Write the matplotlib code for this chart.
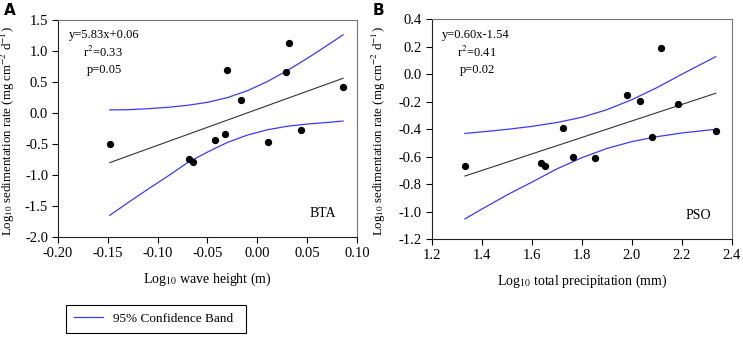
import matplotlib
matplotlib.use("Agg")
import matplotlib.pyplot as plt
from matplotlib.lines import Line2D

plt.rcParams['font.family'] = ['Liberation Serif', 'DejaVu Serif']
plt.rcParams['mathtext.fontset'] = 'stix'

# panel A: wave height vs sedimentation (BTA)
wave_x = [-0.148, -0.069, -0.065, -0.0425, -0.0325, -0.0305, -0.0165, 0.0106, 0.0284, 0.0317, 0.044, 0.086]
wave_y = [-0.505, -0.74, -0.795, -0.435, -0.34, 0.694, 0.215, -0.46, 0.666, 1.134, -0.27, 0.414]
wave_fit_x = [-0.148, 0.086]
wave_fit_y = [-0.80, 0.56]
wave_band_x = [-0.148, -0.13, -0.11, -0.09, -0.07, -0.05, -0.03, -0.01, 0.01, 0.03, 0.05, 0.07, 0.086]
wave_band_hi = [0.05, 0.053, 0.069, 0.091, 0.124, 0.172, 0.248, 0.359, 0.507, 0.684, 0.88, 1.089, 1.26]
wave_band_lo = [-1.65, -1.449, -1.231, -1.021, -0.80, -0.63, -0.475, -0.356, -0.271, -0.214, -0.178, -0.153, -0.13]

# panel B: precipitation vs sedimentation (PSO)
prec_x = [1.333, 1.636, 1.652, 1.724, 1.764, 1.852, 1.981, 2.033, 2.083, 2.118, 2.187, 2.336]
prec_y = [-0.665, -0.647, -0.665, -0.39, -0.599, -0.611, -0.148, -0.197, -0.454, 0.189, -0.214, -0.412]
prec_fit_x = [1.333, 2.336]
prec_fit_y = [-0.74, -0.138]
prec_band_x = [1.333, 1.4, 1.5, 1.6, 1.7, 1.8, 1.9, 2.0, 2.1, 2.2, 2.336]
prec_band_hi = [-0.43, -0.419, -0.401, -0.379, -0.351, -0.313, -0.258, -0.185, -0.098, 0.0, 0.128]
prec_band_lo = [-1.052, -0.981, -0.879, -0.785, -0.689, -0.607, -0.54, -0.49, -0.454, -0.427, -0.40]

ylab = "Log$_{10}$ sedimentation rate (mg cm$^{-2}$ d$^{-1}$)"
band_color = "#3a3aff"
fs = 9


def panel(ax, x, y, fx, fy, bx, bhi, blo, xlim, ylim, xticks, yticks, xfmt, yfmt,
          xlabel, ylab_x, site, eq, r2, p):
    ax.plot(bx, bhi, color=band_color, lw=0.9)
    ax.plot(bx, blo, color=band_color, lw=0.9)
    ax.plot(fx, fy, color="#333333", lw=0.8)
    ax.scatter(x, y, s=18, color="black", zorder=3)
    ax.set_xlim(xlim)
    ax.set_ylim(ylim)
    ax.set_xticks(xticks)
    ax.set_yticks(yticks)
    ax.set_xticklabels([xfmt.format(v) for v in xticks], fontsize=10.5)
    ax.set_yticklabels([yfmt.format(v) for v in yticks], fontsize=10.5)
    ax.tick_params(direction="out", length=4, width=0.8, pad=3)
    for s in ["top", "right"]:
        ax.spines[s].set_color("#777777")
    for s in ["left", "bottom"]:
        ax.spines[s].set_color("#222222")
    ax.set_xlabel(xlabel, fontsize=10, labelpad=8)
    ax.set_ylabel(ylab, fontsize=9.3)
    ax.yaxis.set_label_coords(ylab_x, 0.49)
    ax.text(0.035, 0.915, eq, transform=ax.transAxes, fontsize=fs)
    ax.text(0.085, 0.83, r2, transform=ax.transAxes, fontsize=fs)
    ax.text(0.095, 0.755, p, transform=ax.transAxes, fontsize=fs)
    ax.text(0.93, 0.09, site, transform=ax.transAxes, fontsize=10, ha="right")


fig = plt.figure(figsize=(7.43, 3.37), dpi=100)
ax1 = fig.add_axes([0.078, 0.2967, 0.4025, 0.644])
ax2 = fig.add_axes([0.581, 0.29, 0.4038, 0.6527])

panel(ax1, wave_x, wave_y, wave_fit_x, wave_fit_y, wave_band_x, wave_band_hi, wave_band_lo,
      (-0.2, 0.1), (-2.0, 1.5),
      [-0.20, -0.15, -0.10, -0.05, 0.00, 0.05, 0.10],
      [-2.0, -1.5, -1.0, -0.5, 0.0, 0.5, 1.0, 1.5], "{:.2f}", "{:.1f}",
      "Log$_{10}$ wave height (m)", -0.137, "BTA", "y=5.83x+0.06", "r$^2$=0.33", "p=0.05")

panel(ax2, prec_x, prec_y, prec_fit_x, prec_fit_y, prec_band_x, prec_band_hi, prec_band_lo,
      (1.2, 2.4), (-1.2, 0.4),
      [1.2, 1.4, 1.6, 1.8, 2.0, 2.2, 2.4],
      [-1.2, -1.0, -0.8, -0.6, -0.4, -0.2, 0.0, 0.2, 0.4], "{:.1f}", "{:.1f}",
      "Log$_{10}$ total precipitation (mm)", -0.146, "PSO", "y=0.60x-1.54", "r$^2$=0.41", "p=0.02")

fig.text(0.005, 0.955, "A", fontsize=11, fontweight="bold", family="DejaVu Sans")
fig.text(0.502, 0.955, "B", fontsize=11, fontweight="bold", family="DejaVu Sans")

handle = Line2D([], [], color=band_color, lw=0.9)
leg = fig.legend([handle], ["95% Confidence Band"], loc="lower left",
                 bbox_to_anchor=(0.0888, 0.013, 0.2422, 0.095), mode="expand",
                 fontsize=9.5, fancybox=False, edgecolor="black", framealpha=1,
                 handlelength=2.2, handletextpad=0.8, borderpad=0.6, borderaxespad=0)
leg.get_frame().set_linewidth(0.8)

fig.savefig("out.png", dpi=100)
